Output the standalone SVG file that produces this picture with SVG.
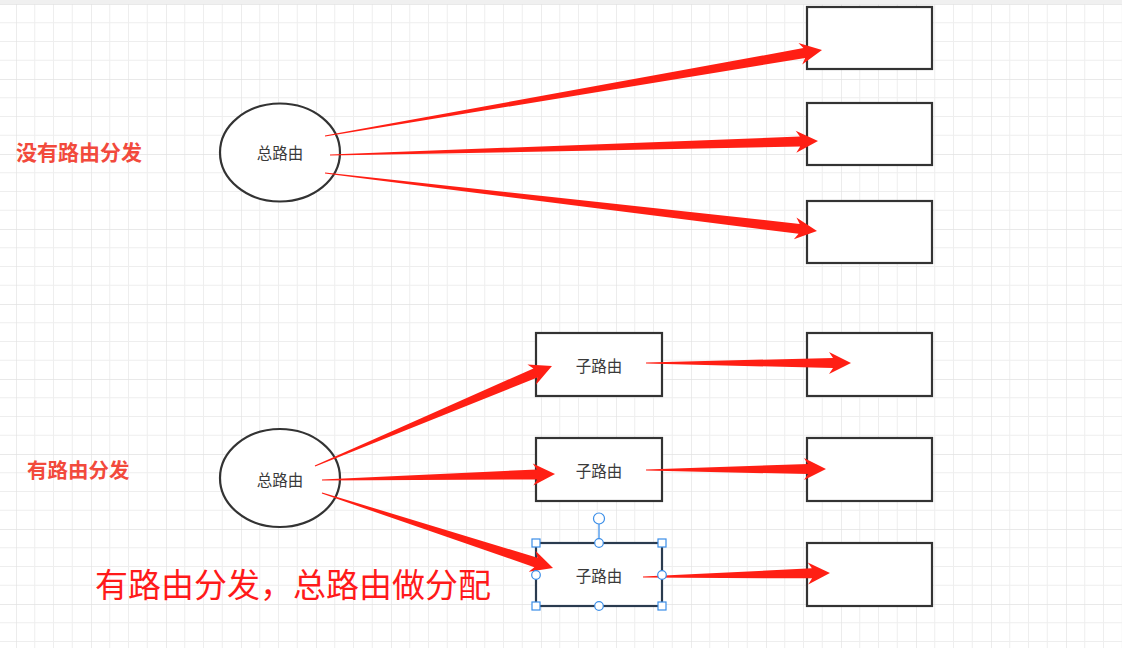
<svg xmlns="http://www.w3.org/2000/svg" width="1122" height="648" viewBox="0 0 1122 648">
<style>
.box{fill:#fff;stroke:#333;stroke-width:2.2}
.lbl{font-family:"Noto Sans CJK SC","Noto Sans",sans-serif;font-size:15.5px;fill:#3a3a3a;text-anchor:middle;dominant-baseline:central}
.red{fill:#ff1f14}
.title{font-family:"Noto Sans CJK SC",sans-serif;font-weight:bold;fill:#f24a3c}
.h{fill:#fff;stroke:#3b8ee8;stroke-width:1.2}
</style>
<defs>
<pattern id="grid" patternUnits="userSpaceOnUse" x="16" y="4" width="75" height="75">
<path d="M18.75 0V75M37.5 0V75M56.25 0V75M0 18.75H75M0 37.5H75M0 56.25H75" stroke="#eeeeee" stroke-width="1" fill="none"/>
<path d="M0 0V75M0 0H75" stroke="#e2e2e2" stroke-width="1.3" fill="none"/>
</pattern>
</defs>
<rect width="1122" height="648" fill="#fff"/>
<rect width="1122" height="648" fill="url(#grid)"/>
<rect width="1122" height="4" fill="#f0f0f0"/>

<g id="label-no"><text class="title" x="16" y="160" font-size="21">没有路由分发</text></g>
<g id="label-yes"><text class="title" x="27" y="478" font-size="20.5">有路由分发</text></g>
<g id="label-big"><text x="95" y="597" font-family="Noto Sans CJK SC,sans-serif" font-size="33" fill="#ff1a1a">有路由分发，总路由做分配</text></g>

<g id="root1"><ellipse cx="280" cy="152.5" rx="60" ry="49" fill="#fff" stroke="#333" stroke-width="2.2"/><text class="lbl" x="280" y="152">总路由</text></g>
<g id="root2"><ellipse cx="280" cy="478" rx="60" ry="49" fill="#fff" stroke="#333" stroke-width="2.2"/><text class="lbl" x="280" y="479">总路由</text></g>

<g id="t1"><rect class="box" x="807" y="7" width="125" height="62"/></g>
<g id="t2"><rect class="box" x="807" y="103" width="125" height="62"/></g>
<g id="t3"><rect class="box" x="807" y="201" width="125" height="62"/></g>
<g id="t4"><rect class="box" x="807" y="333" width="125" height="63"/></g>
<g id="t5"><rect class="box" x="807" y="438" width="125" height="63"/></g>
<g id="t6"><rect class="box" x="807" y="543" width="125" height="63"/></g>

<g id="s1"><rect class="box" x="536" y="333" width="126" height="63"/><text class="lbl" x="599" y="365">子路由</text></g>
<g id="s2"><rect class="box" x="536" y="438" width="126" height="63"/><text class="lbl" x="599" y="470">子路由</text></g>
<g id="s3"><rect x="536" y="543" width="126" height="63" fill="#fff" stroke="#2a3b4f" stroke-width="2.2"/><text class="lbl" x="599" y="575">子路由</text></g>

<g id="connectors">
<polygon class="red" transform="translate(325,136) rotate(-9.82)" points="0,-0.6 486.4,-5 482.4,-11 504.4,0 482.4,11 486.4,5 0,0.6"/>
<polygon class="red" transform="translate(330,155) rotate(-1.64)" points="0,-0.6 470.2,-5 466.2,-11 488.2,0 466.2,11 470.2,5 0,0.6"/>
<polygon class="red" transform="translate(325,173) rotate(6.72)" points="0,-0.6 477.4,-5 473.4,-11 495.4,0 473.4,11 477.4,5 0,0.6"/>
<polygon class="red" transform="translate(315,466) rotate(-22.88)" points="0,-0.6 239.2,-5 235.2,-11 257.2,0 235.2,11 239.2,5 0,0.6"/>
<polygon class="red" transform="translate(322,480) rotate(-1.48)" points="0,-0.6 215.1,-5 211.1,-11 233.1,0 211.1,11 215.1,5 0,0.6"/>
<polygon class="red" transform="translate(322,493) rotate(18)" points="0,-0.6 224.9,-5 220.9,-11 242.9,0 220.9,11 224.9,5 0,0.6"/>
<polygon class="red" transform="translate(646,363)" points="0,-0.6 187,-5 183,-11 205,0 183,11 187,5 0,0.6"/>
<polygon class="red" transform="translate(646,470) rotate(-0.32)" points="0,-0.6 162,-5 158,-11 180,0 158,11 162,5 0,0.6"/>
<polygon class="red" transform="translate(643,577) rotate(-1.23)" points="0,-0.6 169,-5 165,-11 187,0 165,11 169,5 0,0.6"/>
</g>

<g id="selection">
<line x1="599" y1="524" x2="599" y2="543" stroke="#5aa0ee" stroke-width="1.5"/>
<circle class="h" cx="599" cy="518.5" r="5.5" stroke-width="1.8"/>
<rect class="h" x="532" y="539" width="8" height="8"/>
<rect class="h" x="658" y="539" width="8" height="8"/>
<rect class="h" x="532" y="602" width="8" height="8"/>
<rect class="h" x="658" y="602" width="8" height="8"/>
<circle class="h" cx="599" cy="543" r="4.3"/>
<circle class="h" cx="599" cy="606" r="4.3"/>
<circle class="h" cx="536" cy="575" r="4.3"/>
<circle class="h" cx="662" cy="575" r="4.3"/>
</g>
</svg>
